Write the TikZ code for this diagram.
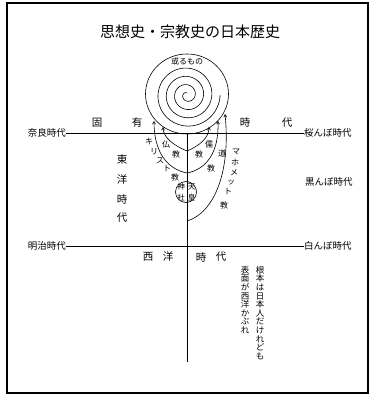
\documentclass[tikz,border=0pt]{standalone}
\usepackage{fontspec}
\newfontfamily\jp{Noto Sans CJK JP}
\usetikzlibrary{arrows.meta}
\tikzset{
  lbl/.style={font=\jp\fontsize{9.5}{10}\selectfont, inner sep=0pt},
  big/.style={font=\jp\fontsize{10.5}{11}\selectfont, inner sep=0pt},
  small/.style={font=\jp\fontsize{8}{8.5}\selectfont, inner sep=0pt},
  tiny/.style={font=\jp\fontsize{7.5}{8}\selectfont, inner sep=0pt},
  uparc/.style={line width=0.6pt, -{Straight Barb[length=2.6pt,width=3pt]}},
  era/.style={line width=0.8pt},
  vnote/.style={font=\jp\fontsize{8.5}{8.6}\selectfont, inner sep=0pt, align=center, anchor=north},
}
\begin{document}
\begin{tikzpicture}[x=1pt,y=-1pt]
\useasboundingbox (0,0) rectangle (373,395);
\draw[line width=1.3pt] (7,3) rectangle (368,393);
\node[font=\jp\fontsize{15}{16}\selectfont, inner sep=0pt] (title) at (190,32) {思想史・宗教史の日本歴史};
% spiral
\draw[line width=0.6pt] (187,94) ellipse [x radius=41.5pt, y radius=40pt];
\draw[line width=0.6pt, domain=0:1350, samples=400, variable=\t]
  plot ({187+(2+8.3*\t/360)*cos(\t+90)}, {95-(2+8.3*\t/360)*sin(\t+90)});
\node[small] (aru) at (187,61) {或るもの};
% trunk and era lines
\coordinate (trtop) at (187,133);
\coordinate (trbot) at (187,362);
\draw[line width=0.7pt] (trtop) -- (trbot);
\node[lbl, anchor=east] (nara) at (66,133) {奈良時代};
\node[lbl, anchor=west] (sakura) at (304,133) {桜んぼ時代};
\draw[era] (nara.east) -- (sakura.west);
\node[lbl, anchor=east] (meiji) at (66,246) {明治時代};
\node[lbl, anchor=west] (shiro) at (304,246) {白んぼ時代};
\draw[era] (meiji.east) -- (shiro.west);
\node[lbl, anchor=west] (kuro) at (305,182) {黒んぼ時代};
% era labels
\node[big] (k1) at (97,123) {固};
\node[big] (k2) at (137,123) {有};
\node[big] (k3) at (245,123) {時};
\node[big] (k4) at (287,123) {代};
\node[big] (t1) at (122,160) {東};
\node[big] (t2) at (122,180) {洋};
\node[big] (t3) at (122,199) {時};
\node[big] (t4) at (122,218) {代};
\node[big] (s1) at (148,257) {西};
\node[big] (s2) at (168,257) {洋};
\node[big] (s3) at (201,257) {時};
\node[big] (s4) at (221,257) {代};
% religions
\coordinate (j1) at (187,151);
\coordinate (j2) at (187,173);
\coordinate (j3) at (187,221);
\coordinate (aBud) at (163,127);
\coordinate (aChr) at (154,121);
\coordinate (aCon) at (209,127);
\coordinate (aTao) at (218,121);
\coordinate (aIsl) at (225,114);
\draw[uparc] (j1) .. controls (175,146) and (163,138) .. (aBud);
\draw[uparc] (j2) .. controls (167,169) and (154,152) .. (aChr);
\draw[uparc] (j1) .. controls (199,146) and (209,138) .. (aCon);
\draw[uparc] (j2) .. controls (207,169) and (219,152) .. (aTao);
\draw[uparc] (j3) .. controls (214,213) and (231,172) .. (aIsl);
\node[small] (bu1) at (166,144) {仏};
\node[small] (bu2) at (176,154) {教};
\node[small] (ki1) at (149,142) {キ};
\node[small] (ki2) at (154,152) {リ};
\node[small] (ki3) at (160,161) {ス};
\node[small] (ki4) at (167,169) {ト};
\node[small] (ki5) at (175,177) {教};
\node[small] (ju1) at (209,144) {儒};
\node[small] (ju2) at (199,154) {教};
\node[small] (do1) at (222,153) {道};
\node[small] (do2) at (211,168) {教};
\node[small] (ma1) at (236,152) {マ};
\node[small] (ma2) at (235,162) {ホ};
\node[small] (ma3) at (234,173) {メ};
\node[small] (ma4) at (231,182) {ッ};
\node[small] (ma5) at (228,192) {ト};
\node[small] (ma6) at (224,205) {教};
% shrine circle
\node[draw, circle, line width=0.6pt, minimum size=21pt, inner sep=0pt] (jin) at (186,192) {};
\node[tiny] (c1) at (181,187) {神};
\node[tiny] (c2) at (181,197.5) {社};
\node[tiny] (c3) at (191.5,187) {天};
\node[tiny] (c4) at (191.5,197.5) {皇};
% vertical note
\node[vnote] (n1) at (260,266) {根\\本\\は\\日\\本\\人\\だ\\け\\れ\\ど\\も};
\node[vnote] (n2) at (245,266) {表\\面\\が\\西\\洋\\か\\ぶ\\れ};
\end{tikzpicture}
\end{document}
